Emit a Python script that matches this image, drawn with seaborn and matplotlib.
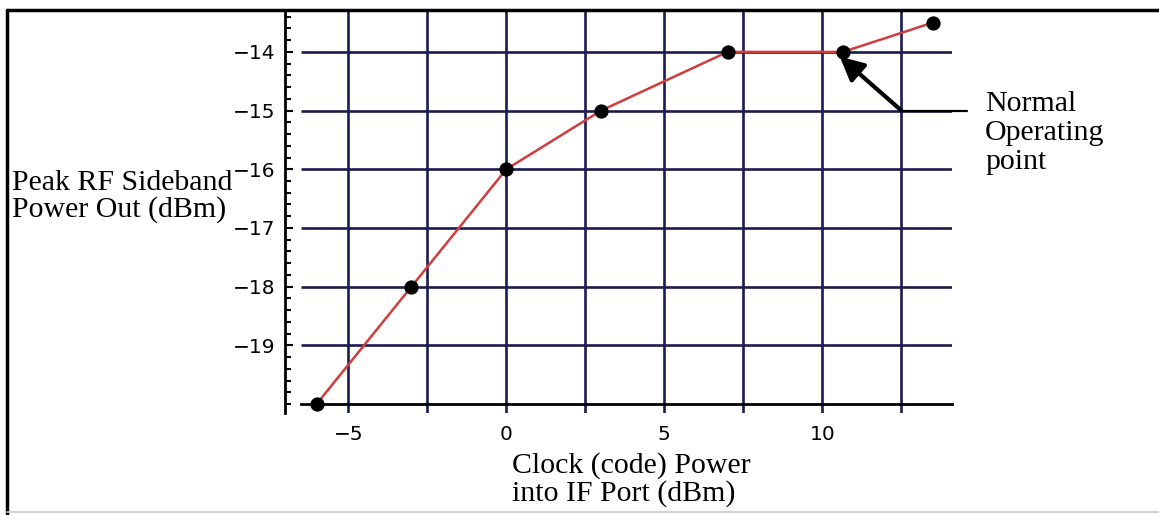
import numpy as np
import pandas as pd
import matplotlib.pyplot as plt
from matplotlib.lines import Line2D
from matplotlib.ticker import MultipleLocator, FixedLocator, FuncFormatter
import seaborn as sns

# Measured points (clock power in, peak sideband power out)
clock_power = [-6, -3, 0, 3, 7, 10.65, 13.5]
peak_power = [-20, -18, -16, -15, -14, -14, -13.5]

y_grid = [-19, -18, -17, -16, -15, -14]
x_grid = [-5, -2.5, 0, 2.5, 5, 7.5, 10, 12.5]
y_ticks = [-19, -18, -17, -16, -15, -14]

df = pd.DataFrame({"clock": clock_power, "peak": peak_power})

sns.set_theme(style="white")
plt.rcParams["font.family"] = ["DejaVu Sans"]
plt.rcParams["text.color"] = "black"

W, H = 1159, 515
fig = plt.figure(figsize=(W / 100, H / 100), dpi=100)
ax = fig.add_axes([285 / W, 1 - 413 / H, (952 - 285) / W, (413 - 12) / H])

navy = "#1c1c4c"
red = "#d23c3c"

# grid
ax.set_xlim(-7, 14.1)
ax.set_ylim(-20.153, -13.32)
ax.hlines(y_grid, -6.5, 14.1, color=navy, lw=1.9, zorder=1)
ax.xaxis.set_major_locator(FixedLocator(x_grid))
ax.xaxis.grid(True, color=navy, lw=1.9, zorder=1)

# data
sns.lineplot(data=df, x="clock", y="peak", ax=ax, color=red, lw=1.8,
             sort=False, zorder=3)
sns.scatterplot(data=df, x="clock", y="peak", ax=ax, color="black", s=90,
                edgecolor="black", zorder=4)

# axes styling
for side in ["top", "right"]:
    ax.spines[side].set_visible(False)
ax.spines["bottom"].set_position(("data", -20))
ax.spines["bottom"].set_bounds(-6.5, 14.1)
ax.spines["bottom"].set_linewidth(2)
ax.spines["bottom"].set_color("black")
ax.spines["left"].set_linewidth(2)
ax.spines["left"].set_color("black")

ax.xaxis.set_major_formatter(FuncFormatter(
    lambda v, p: f"{int(v)}".replace("-", "\u2212") if v % 5 == 0 else ""))
ax.tick_params(axis="x", length=0, pad=15, labelsize=14.5, labelcolor="black")
ax.yaxis.set_major_locator(FixedLocator(y_ticks))
ax.yaxis.set_minor_locator(MultipleLocator(0.2))
ax.yaxis.set_major_formatter(FuncFormatter(lambda v, p: f"\u2212{abs(int(v))}"))
ax.tick_params(axis="y", which="major", direction="in", length=6, width=1.5,
               pad=7, labelsize=14.5, labelcolor="black", color="black",
               left=True)
ax.tick_params(axis="y", which="minor", direction="in", length=4, width=1.5,
               color="black", left=True)
ax.set_xlabel("")
ax.set_ylabel("")
ax.set_facecolor("white")

# operating point annotation
ax.annotate("", xy=(10.55, -14.08), xytext=(12.5, -15),
            arrowprops=dict(arrowstyle="-|>", color="black", lw=3,
                            mutation_scale=36, shrinkA=0, shrinkB=0),
            zorder=5)
ax.plot([12.5, 14.56], [-15, -15], color="black", lw=1.6, clip_on=False,
        zorder=5)

serif = ["Liberation Serif", "DejaVu Serif"]
fig.text(985 / W, 1 - 91 / H, "Normal\nOperating\npoint", family=serif,
         fontsize=21.5, ha="left", va="top", linespacing=1.15, color="black")
fig.text(12 / W, 1 - 170 / H, "Peak RF Sideband\nPower Out (dBm)",
         family=serif, fontsize=21.5, ha="left", va="top", linespacing=1.0,
         color="black")
fig.text(512 / W, 1 - 452 / H, "Clock (code) Power\ninto IF Port (dBm)",
         family=serif, fontsize=21.5, ha="left", va="top", linespacing=1.05,
         color="black")

# outer frame
fig.add_artist(Line2D([7 / W, 1], [1 - 10 / H, 1 - 10 / H], color="black",
                      lw=2.5, transform=fig.transFigure))
fig.add_artist(Line2D([7 / W, 7 / W], [1 - 10 / H, 0], color="black",
                      lw=2.5, transform=fig.transFigure))
fig.add_artist(Line2D([7 / W, 1], [1 - 512 / H, 1 - 512 / H], color="#c8c8c8",
                      lw=1.2, transform=fig.transFigure))

fig.savefig("out.png", dpi=100, facecolor="white")
